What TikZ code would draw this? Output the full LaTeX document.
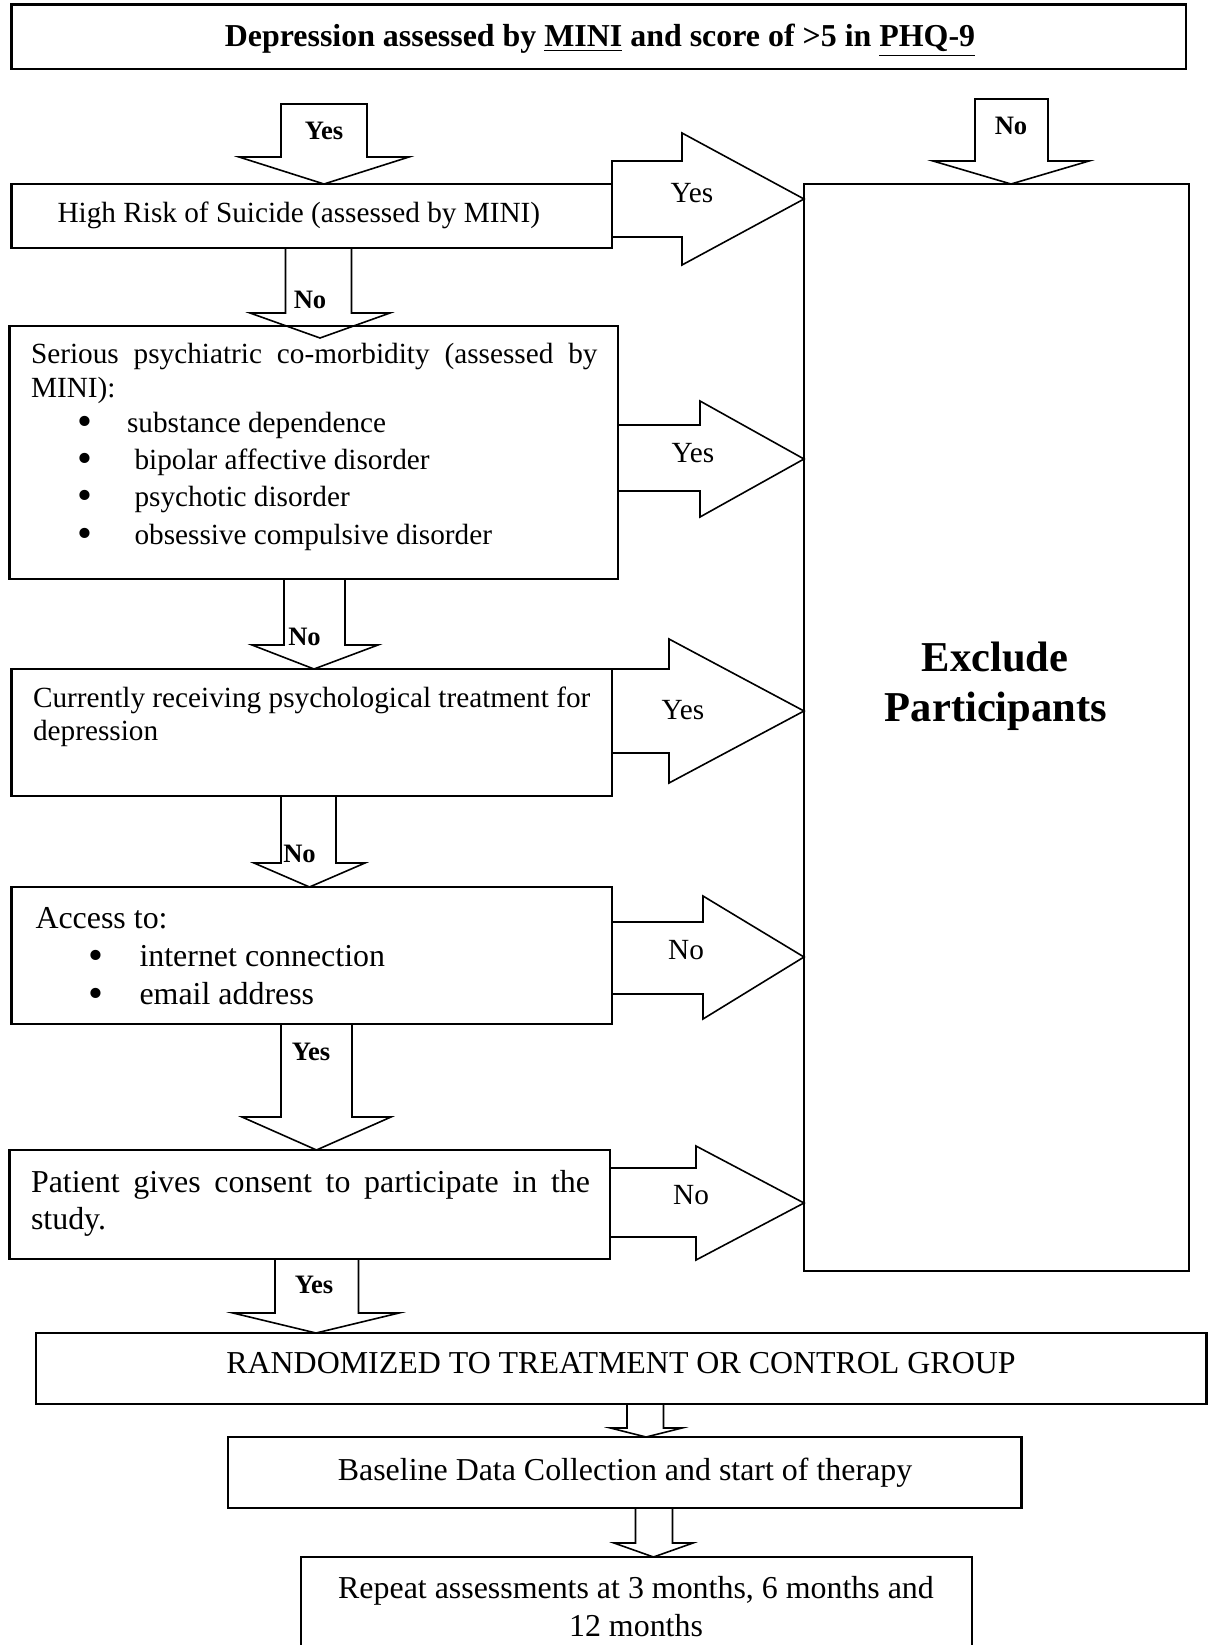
\documentclass[tikz,border=0pt]{standalone}
\usepackage{fontspec}
\setmainfont{Liberation Serif}
\newlength\px
\setlength\px{0.376pt}
% block arrow pointing down: from node, shaft left/right x, head base y, head left/right x, tip x, tip y
\newcommand\DownBlk[8]{%
  \draw[blk] (#2,0 |- #1.south) -- (#2,#4) -- (#5,#4) -- (#7,#8) -- (#6,#4) -- (#3,#4) -- (#3,0 |- #1.south) -- cycle;}
% block arrow pointing right: from node, to node, shaft top/bottom y, head x, head top/bottom y, tip y
\newcommand\RightBlk[8]{%
  \draw[blk] (#1.east |- 0,#3) -- (#5,#3) -- (#5,#6) -- (#2.west |- 0,#8) -- (#5,#7) -- (#5,#4) -- (#1.east |- 0,#4) -- cycle;}
\tikzset{
  box/.style={draw, line width=0.95pt, inner sep=0pt, outer sep=0pt, anchor=north west},
  blk/.style={draw, line width=0.6pt, line join=miter},
  txt/.style={inner sep=0pt, anchor=base west, font=\fontsize{11}{13}\selectfont},
  txtl/.style={inner sep=0pt, anchor=base west, font=\fontsize{12}{14}\selectfont},
  ctxt/.style={inner sep=0pt, anchor=base, font=\fontsize{12}{14}\selectfont},
  bul/.style={inner sep=0pt, anchor=base, text height=5pt, text depth=0pt, font=\fontsize{16}{18}\selectfont},
  lab/.style={inner sep=0pt, anchor=base, font=\fontsize{11}{13}\selectfont},
  labb/.style={inner sep=0pt, anchor=base, font=\bfseries\fontsize{10}{12}\selectfont},
}
\begin{document}
\begin{tikzpicture}[x=0.376pt, y=-0.376pt]
\useasboundingbox (0,0) rectangle (1208,1645);
\clip (0,0) rectangle (1208,1645);

% boxes
\node[box, minimum width=1174.5\px, minimum height=64.5\px] (title) at (11.5,4.5) {};
\node[box, minimum width=600.5\px, minimum height=64\px] (risk) at (11.5,184) {};
\node[box, minimum width=608.5\px, minimum height=253\px] (comorb) at (9.5,326) {};
\node[box, minimum width=600.5\px, minimum height=127\px] (treat) at (11.5,669) {};
\node[box, minimum width=600.5\px, minimum height=137\px] (access) at (11.5,887) {};
\node[box, minimum width=600.5\px, minimum height=109\px] (consent) at (9.5,1150) {};
\node[box, minimum width=1170.5\px, minimum height=71\px] (rand) at (36,1333) {};
\node[box, minimum width=793.5\px, minimum height=71\px] (base) at (228,1437) {};
\node[box, minimum width=671\px, minimum height=110\px] (repeat) at (301,1557) {};
\node[box, minimum width=385\px, minimum height=1087\px] (excl) at (804,184) {};

% box texts
\node[ctxt, font=\bfseries\fontsize{12}{14}\selectfont] (titletxt) at (600,47)
  {Depression assessed by \underline{MINI} and score of >5 in \underline{PHQ-9}};

\node[txt] (risktxt) at (57,223) {High Risk of Suicide (assessed by MINI)};

\node[txt] (cm1) at (30.5,363) {\makebox[566.5\px][s]{Serious psychiatric co-morbidity (assessed by}};
\node[txt] (cm2) at (30.5,397) {MINI):};
\node[bul] (cb1) at (84.5,435) {•};
\node[bul] (cb2) at (84.5,472) {•};
\node[bul] (cb3) at (84.5,509) {•};
\node[bul] (cb4) at (84.5,547) {•};
\node[txt] (ci1) at (126.5,432) {substance dependence};
\node[txt] (ci2) at (134,469) {bipolar affective disorder};
\node[txt] (ci3) at (134,506) {psychotic disorder};
\node[txt] (ci4) at (134,544) {obsessive compulsive disorder};

\node[txt] (tr1) at (32.5,707) {Currently receiving psychological treatment for};
\node[txt] (tr2) at (32.5,740) {depression};

\node[txtl] (ac0) at (35,928) {Access to:};
\node[bul] (ab1) at (96,969) {•};
\node[bul] (ab2) at (96,1007) {•};
\node[txtl] (ac1) at (139,966) {internet connection};
\node[txtl] (ac2) at (139,1004) {email address};

\node[txtl] (co1) at (30.5,1192) {\makebox[559\px][s]{Patient gives consent to participate in the}};
\node[txtl] (co2) at (30.5,1229) {study.};

\node[ctxt] (randtxt) at (621,1373) {RANDOMIZED TO TREATMENT OR CONTROL GROUP};
\node[ctxt] (basetxt) at (625,1480) {Baseline Data Collection and start of therapy};
\node[ctxt] (rep1) at (636,1598) {Repeat assessments at 3 months, 6 months and};
\node[ctxt] (rep2) at (636,1636) {12 months};

\node[ctxt, font=\bfseries\fontsize{16}{18}\selectfont] (ex1) at (995,671) {Exclude};
\node[ctxt, font=\bfseries\fontsize{16}{18}\selectfont] (ex2) at (996,721) {Participants};

% incoming arrows at the top
\draw[blk] (281,104) -- (281,157) -- (239,157) -- (324,184) -- (409,157) -- (367,157) -- (367,104) -- cycle;
\node[labb] (ly0) at (324,140) {Yes};
\draw[blk] (975,99) -- (975,161) -- (933,161) -- (1011,184) -- (1089,161) -- (1048,161) -- (1048,99) -- cycle;
\node[labb] (ln0) at (1011,135) {No};

% downward flow
\DownBlk{risk}{285.5}{351.5}{313}{250}{390}{320}{338}
\node[labb] (ln1) at (310,308) {No};
\DownBlk{comorb}{284}{345}{645}{252}{378}{314}{669}
\node[labb] (ln2) at (304.5,645) {No};
\DownBlk{treat}{281}{336}{863}{254}{365}{309.5}{887}
\node[labb] (ln3) at (299.5,862) {No};
\DownBlk{access}{281}{352}{1117}{242}{391}{316.5}{1150}
\node[labb] (ly4) at (311,1060) {Yes};
\DownBlk{consent}{275}{358.5}{1313}{233}{399}{316}{1333}
\node[labb] (ly5) at (314,1293) {Yes};
\DownBlk{rand}{627}{663.5}{1428}{610.5}{682}{646}{1437}
\DownBlk{base}{635.5}{672.5}{1543}{614}{693}{653.5}{1557}

% exclusion arrows
\RightBlk{risk}{excl}{161}{237}{682}{133}{265}{199}
\node[lab] (lx1) at (692,202) {Yes};
\RightBlk{comorb}{excl}{425}{491}{700}{401}{517}{459}
\node[lab] (lx2) at (693,462) {Yes};
\RightBlk{treat}{excl}{669}{753}{669}{639}{783}{711}
\node[lab] (lx3) at (683,719) {Yes};
\RightBlk{access}{excl}{922}{994}{703}{896}{1019}{957}
\node[lab] (lx4) at (686,959) {No};
\RightBlk{consent}{excl}{1168}{1237}{696}{1146}{1260}{1203}
\node[lab] (lx5) at (691,1204) {No};
\end{tikzpicture}
\end{document}
